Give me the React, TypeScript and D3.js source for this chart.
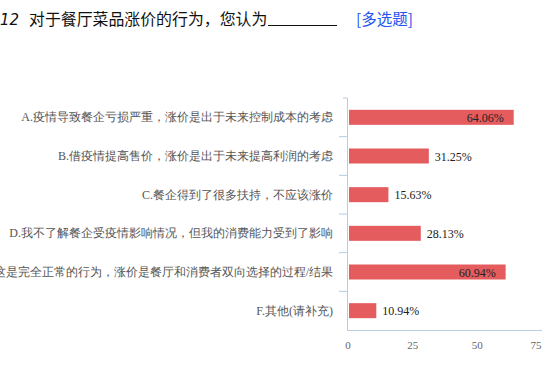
import React from "react";
import * as d3 from "d3";

const categories = [
  "A.疫情导致餐企亏损严重，涨价是出于未来控制成本的考虑",
  "B.借疫情提高售价，涨价是出于未来提高利润的考虑",
  "C.餐企得到了很多扶持，不应该涨价",
  "D.我不了解餐企受疫情影响情况，但我的消费能力受到了影响",
  "E.这是完全正常的行为，涨价是餐厅和消费者双向选择的过程/结果",
  "F.其他(请补充)",
];
const values = [64.06, 31.25, 15.63, 28.13, 60.94, 10.94];
const xTicks = [0, 25, 50, 75];

export default function App() {
  const W = 557, H = 372;
  const left = 348, right = 542, top = 98, bottom = 330;
  const x = d3.scaleLinear().domain([0, 75]).range([left, right]);
  const band = d3.scaleBand<string>().domain(categories).range([top, bottom]);
  const serif = "'Liberation Serif', 'DejaVu Serif', serif";
  const axisColor = "#b8cce4";
  return (
    <svg width={W} height={H} style={{ position: "absolute", left: 0, top: 0, background: "#fff" }}>
      <text x={0} y={25} fontFamily="'DejaVu Sans', sans-serif" fontSize={15} fontStyle="italic" fill="#111">12</text>
      <text x={29} y={25} fontFamily="'Noto Sans CJK SC', sans-serif" fontSize={15.9} fill="#111">对于餐厅菜品涨价的行为，您认为</text>
      <line x1={268} x2={337} y1={25.5} y2={25.5} stroke="#111" strokeWidth={1} />
      <text x={356} y={25} fontFamily="'Noto Sans CJK SC', sans-serif" fontSize={15.5} fill="#2255ee">[多选题]</text>

      {categories.map((c, i) => (
        <line key={"t" + i} x1={i === 0 ? 343 : 339} x2={347} y1={band(c)!} y2={band(c)!} stroke={axisColor} />
      ))}
      <line x1={347.5} x2={347.5} y1={top} y2={bottom} stroke={axisColor} />
      <line x1={347} x2={right} y1={bottom + 0.5} y2={bottom + 0.5} stroke={axisColor} />

      {categories.map((c, i) => {
        const cy = band(c)! + band.bandwidth() / 2;
        return (
          <text key={"l" + i} x={333} y={cy + 4} textAnchor="end" fontFamily={serif} fontSize={12} fill="#555">{c}</text>
        );
      })}
      {categories.map((c, i) => {
        const v = values[i];
        const by = band(c)! + (band.bandwidth() - 15) / 2;
        const xe = x(v);
        const inside = v > 50;
        return (
          <g key={"b" + i}>
            <rect x={x(0) + 1} y={by} width={xe - x(0) - 1} height={15} fill="#e45c5e" />
            <text x={inside ? xe - 10 : xe + 6} y={by + 12} textAnchor={inside ? "end" : "start"}
              fontFamily={serif} fontSize={12} fill="#222">{v.toFixed(2)}%</text>
          </g>
        );
      })}
      {xTicks.map((t, i) => (
        <text key={"x" + i} x={i === xTicks.length - 1 ? x(t) - 6 : x(t)} y={349} textAnchor="middle"
          fontFamily={serif} fontSize={11} fill="#666">{t}</text>
      ))}
    </svg>
  );
}
